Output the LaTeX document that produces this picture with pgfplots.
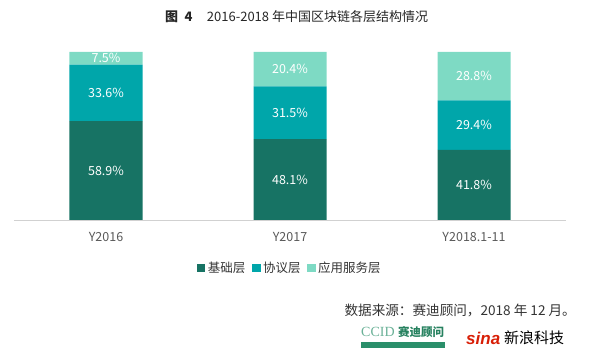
\documentclass[border=0pt]{standalone}
\usepackage{pgfplots}
\pgfplotsset{compat=1.18}
\usepackage{pgfplotstable}
\usepackage{fontspec}
\setmainfont{Noto Sans CJK SC}
\newfontfamily\serifl{Liberation Serif}
\newfontfamily\sansl{Liberation Sans}
\definecolor{cdark}{HTML}{177364}
\definecolor{cmid}{HTML}{00A6AA}
\definecolor{clight}{HTML}{7EDAC4}
\definecolor{txtgray}{HTML}{595959}
\definecolor{ccidgreen}{HTML}{2A8F6A}
\definecolor{sinared}{HTML}{D81E06}

\pgfplotstableread{
x a b c
0 58.9 33.6 7.5
1 48.1 31.5 20.4
2 41.8 29.4 28.8
}\datatab

\begin{document}
\begin{tikzpicture}[x=1pt,y=1pt]
\useasboundingbox (0,0) rectangle (600,359);
\begin{axis}[
  at={(14pt,139pt)}, anchor=south west,
  scale only axis, width=552pt, height=168pt,
  ybar stacked, bar width=73pt,
  xmin=-0.5, xmax=2.5, ymin=0, ymax=100,
  axis y line=none,
  axis x line*=bottom,
  x axis line style={draw=black!18, line width=0.8pt, -},
  xtick=data,
  xticklabels={Y2016,Y2017,Y2018.1-11},
  major tick length=0pt,
  xticklabel style={font=\fontsize{12.5}{14}\selectfont, text=txtgray, yshift=-9pt},
  /pgf/number format/assume math mode=true,
  legend columns=3,
  legend style={at={(0.5,-0.286)}, anchor=center, draw=none, fill=none,
    font=\fontsize{12.5}{14}\selectfont, text=black!80,
    /tikz/every even column/.append style={column sep=4pt},
    nodes={inner xsep=2.5pt},
    inner sep=0pt},
  legend image code/.code={\fill[#1] (0pt,-4.3pt) rectangle (8.6pt,4.3pt);},
  nodes near coords={\pgfmathprintnumber[fixed,fixed zerofill,precision=1]{\pgfplotspointmeta}\%},
  every node near coord/.append style={anchor=center, text=white,
     font=\fontsize{12.5}{14}\selectfont},
]
\addplot[fill=cdark, draw=none] table[x=x, y=a, meta=a] {\datatab};
\addplot[fill=cmid, draw=none] table[x=x, y=b, meta=b] {\datatab};
\addplot[fill=clight, draw=none] table[x=x, y=c, meta=c] {\datatab};
\legend{基础层,协议层,应用服务层}
\end{axis}
% title
\node[anchor=west, inner sep=0pt, font=\fontsize{13}{14}\selectfont, text=black!85] at (165,342) {\textbf{图\hspace{0.5em}4}\hspace{1.1em}2016-2018 年中国区块链各层结构情况};
% source
\node[anchor=east, inner sep=0pt, font=\fontsize{13.6}{14}\selectfont, text=black!80] at (576,49) {数据来源：赛迪顾问，2018 年 12 月。};
% CCID logo
\node[anchor=west, inner sep=0pt, text=ccidgreen!70, font=\serifl\fontsize{14}{14}\selectfont] at (361,27) {CCID};
\node[anchor=west, inner sep=0pt, text=ccidgreen!90!black, font=\fontsize{11.5}{12}\selectfont\bfseries] at (398,27) {赛迪顾问};
\fill[ccidgreen] (361,11) rectangle (445,17);
% sina logo
\node[anchor=west, inner sep=0pt, text=sinared, font=\sansl\fontsize{17}{17}\selectfont\bfseries\itshape] at (466,21) {sina};
\node[anchor=west, inner sep=0pt, text=black, font=\fontsize{15}{16}\selectfont] at (504,21) {新浪科技};
\end{tikzpicture}
\end{document}
